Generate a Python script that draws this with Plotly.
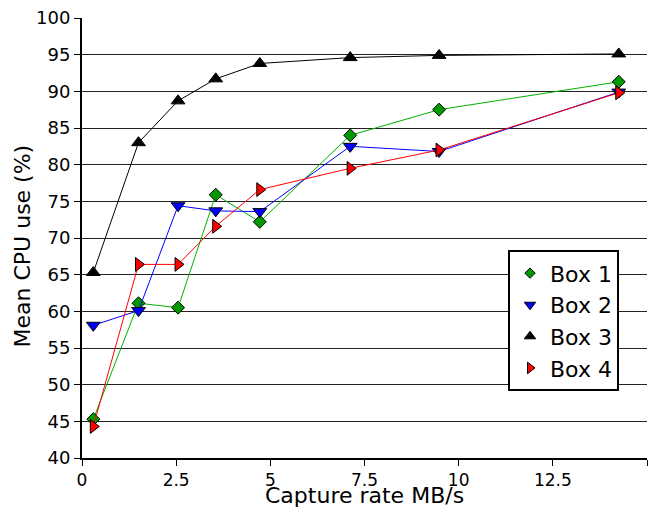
import plotly.graph_objects as go

rate = [0.3, 1.5, 2.55, 3.55, 4.72, 7.12, 9.48, 14.25]
box1 = [45.3, 61.1, 60.5, 75.9, 72.2, 84.0, 87.5, 91.3]
box2 = [58.1, 60.1, 74.4, 73.7, 73.6, 82.5, 81.8, 89.9]
box3 = [65.3, 83.0, 88.7, 91.7, 93.8, 94.6, 94.9, 95.1]
box4 = [44.3, 66.4, 66.4, 71.6, 76.6, 79.5, 82.0, 89.8]
names = ["Box 1", "Box 2", "Box 3", "Box 4"]
xticks = [0, 2.5, 5, 7.5, 10, 12.5, 15]
xtick_text = ["0", "2.5", "5", "7.5", "10", "12.5", "15"]
yticks = list(range(40, 101, 5))
x_title = "Capture rate MB/s"
y_title = "Mean CPU use (%)"

series = [box1, box2, box3, box4]
line_colors = ["#00b000", "#0000ff", "#000000", "#ff0000"]
marker_colors = ["#009900", "#0000ff", "#000000", "#ff0000"]
symbols = ["diamond", "triangle-down", "triangle-up", "triangle-right"]
sizes = [10, 12, 12, 12]
legend_sizes = [8, 10, 10, 10]

fig = go.Figure()
for s, n, lc, mc, sym, sz in zip(series, names, line_colors, marker_colors, symbols, sizes):
    fig.add_trace(go.Scatter(
        x=rate, y=s, mode="lines+markers", showlegend=False,
        line=dict(color=lc, width=1),
        marker=dict(symbol=sym, size=sz, color=mc, line=dict(color="black", width=1)),
        cliponaxis=False,
    ))
for n, mc, sym, sz in zip(names, marker_colors, symbols, legend_sizes):
    fig.add_trace(go.Scatter(
        x=[None], y=[None], mode="markers", name=n,
        marker=dict(symbol=sym, size=sz, color=mc, line=dict(color="black", width=1)),
    ))

fig.add_annotation(
    text=x_title, xref="paper", yref="paper", x=0.5, y=-0.085,
    xanchor="center", yanchor="middle", showarrow=False,
    font=dict(size=22, family="DejaVu Sans", color="black"),
)
fig.add_annotation(
    text=y_title, xref="paper", yref="paper", x=-0.106, y=0.481,
    xanchor="center", yanchor="middle", showarrow=False, textangle=-90,
    font=dict(size=22, family="DejaVu Sans", color="black"),
)

fig.update_layout(
    width=656, height=507,
    margin=dict(l=82, r=9, t=18, b=49, autoexpand=False),
    paper_bgcolor="white", plot_bgcolor="white",
    font=dict(family="DejaVu Sans", color="black", size=18),
    legend=dict(
        x=0.754, y=0.472, xanchor="left", yanchor="top",
        bgcolor="white", bordercolor="black", borderwidth=2,
        font=dict(size=22), itemsizing="trace",
        tracegroupgap=0, itemwidth=30,
    ),
    xaxis=dict(
        range=[0, 15], tickvals=xticks, ticktext=xtick_text,
        showgrid=False, zeroline=False, automargin=False,
        showline=True, linecolor="black", linewidth=2,
        ticks="outside", ticklen=6, tickcolor="black",
        tickfont=dict(size=17),
    ),
    yaxis=dict(
        range=[40, 100], tickvals=yticks, automargin=False,
        showgrid=True, gridcolor="#222222", gridwidth=1,
        zeroline=False,
        showline=True, linecolor="black", linewidth=2,
        ticks="outside", ticklen=6, tickcolor="black",
        tickfont=dict(size=18),
    ),
)

fig.write_html("out.html")
